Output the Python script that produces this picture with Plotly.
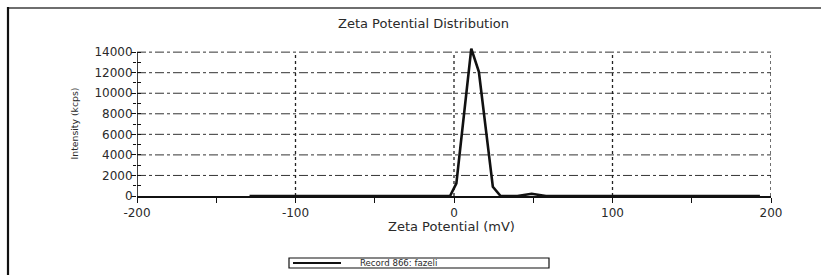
import plotly.graph_objects as go

# ---- data ----
zeta_mv = [-129, -2.5, 1.5, 10.9, 15.7, 24.5, 29.4, 40, 49, 58, 193]
intensity_kcps = [0, 0, 1230, 14350, 12090, 900, 0, 0, 220, 0, 0]
series_name = "Record 866: fazeli"
x_ticks = [-200, -100, 0, 100, 200]
x_tick_text = ["-200", "-100", "0", "100", "200"]
y_ticks = [0, 2000, 4000, 6000, 8000, 10000, 12000, 14000]
y_tick_text = ["0", "2000", "4000", "6000", "8000", "10000", "12000", "14000"]

W, H = 821, 275
L, R, T, B = 137, 50, 47, 79
PW, PH = W - L - R, H - T - B


def px(xp):
    return (xp - L) / PW


def py(yp):
    return (H - B - yp) / PH


FONT = "DejaVu Sans"
TXT = "#2a2a2a"

fig = go.Figure()
fig.add_trace(go.Scatter(
    x=zeta_mv, y=intensity_kcps, mode="lines", name=series_name,
    line=dict(color="#111111", width=2.6), showlegend=False,
))
# invisible trace on overlay axis to carry inside ticks
fig.add_trace(go.Scatter(x=[x_ticks[0]], y=[0], yaxis="y2", mode="lines",
                         showlegend=False, hoverinfo="skip",
                         line=dict(color="rgba(0,0,0,0)")))

fig.update_layout(
    width=W, height=H,
    margin=dict(l=L, r=R, t=T, b=B),
    paper_bgcolor="white", plot_bgcolor="white",
    font=dict(family=FONT, size=12, color=TXT),
    xaxis=dict(
        range=[-200, 200], tickvals=x_ticks, ticktext=x_tick_text,
        ticks="outside", ticklen=5,
        tickwidth=1.2, tickcolor="#111", showline=True, linecolor="#111",
        linewidth=1.6, showgrid=False, zeroline=False,
        minor=dict(dtick=50, tick0=0, ticks="outside", ticklen=5,
                   tickwidth=1.2, tickcolor="#111", showgrid=False),
        tickfont=dict(family=FONT, size=12, color=TXT),
    ),
    yaxis=dict(
        range=[0, 14500], tickvals=y_ticks, ticktext=y_tick_text,
        ticks="outside", ticklen=5, ticklabelstandoff=-4,
        tickwidth=1.2, tickcolor="#111", showline=False, zeroline=False,
        showgrid=False,
        minor=dict(dtick=1000, tick0=0, ticks="outside", ticklen=3,
                   tickwidth=1.2, tickcolor="#111", showgrid=False),
        tickfont=dict(family=FONT, size=12, color=TXT),
    ),
    yaxis2=dict(
        overlaying="y", matches="y", side="left", tickvals=y_ticks,
        ticks="inside", ticklen=4, tickwidth=1.2, tickcolor="#111",
        showticklabels=False, showgrid=False, zeroline=False, showline=False,
        minor=dict(dtick=1000, tick0=0, ticks="inside", ticklen=4,
                   tickwidth=1.2, tickcolor="#111", showgrid=False),
    ),
)

shapes = []
# horizontal dash-dot grid lines
for v in y_ticks[1:]:
    shapes.append(dict(type="line", xref="x", yref="y", x0=-200, x1=200,
                       y0=v, y1=v, line=dict(color="#333", width=1,
                                             dash="dashdot"), layer="below"))
# vertical dotted grid lines
for v in x_ticks[1:]:
    shapes.append(dict(type="line", xref="x", yref="y", x0=v, x1=v,
                       y0=0, y1=y_ticks[-1], line=dict(color="#222", width=1.3,
                                                      dash="dot"), layer="below"))
# y axis line
shapes.append(dict(type="line", xref="x", yref="y", x0=-200, x1=-200,
                   y0=0, y1=y_ticks[-1], line=dict(color="#111", width=1.6)))
# outer frame
shapes.append(dict(type="line", xref="paper", yref="paper", x0=px(8), x1=px(821),
                   y0=py(8), y1=py(8), line=dict(color="#6e6e6e", width=2.2)))
shapes.append(dict(type="line", xref="paper", yref="paper", x0=px(8), x1=px(8),
                   y0=py(7), y1=py(276), line=dict(color="#111", width=2.2)))
# legend box
shapes.append(dict(type="rect", xref="paper", yref="paper", x0=px(289), x1=px(549),
                   y0=py(268), y1=py(258), line=dict(color="#111", width=1.2),
                   fillcolor="white"))
shapes.append(dict(type="line", xref="paper", yref="paper", x0=px(293), x1=px(341),
                   y0=py(263), y1=py(263), line=dict(color="#111", width=2)))
fig.update_layout(shapes=shapes)

annos = [
    dict(text="Zeta Potential Distribution", x=px(423), y=py(23.5),
         font=dict(size=13)),
    dict(text="Zeta Potential (mV)", x=px(451), y=py(226.5),
         font=dict(size=13)),
    dict(text="Intensity (kcps)", x=px(73.5), y=py(124), textangle=-90,
         font=dict(size=9.3)),
    dict(text=series_name, x=px(358), y=py(263), xanchor="left",
         font=dict(size=8.6)),
]
for a in annos:
    a.setdefault("xanchor", "center")
    a.update(xref="paper", yref="paper", yanchor="middle", showarrow=False)
    a["font"].update(family=FONT, color=TXT)
fig.update_layout(annotations=annos)

fig.write_html("out.html",
               config={"displayModeBar": False},
               post_script="document.body.style.margin='0px';"
                           "document.body.style.overflow='hidden';")
